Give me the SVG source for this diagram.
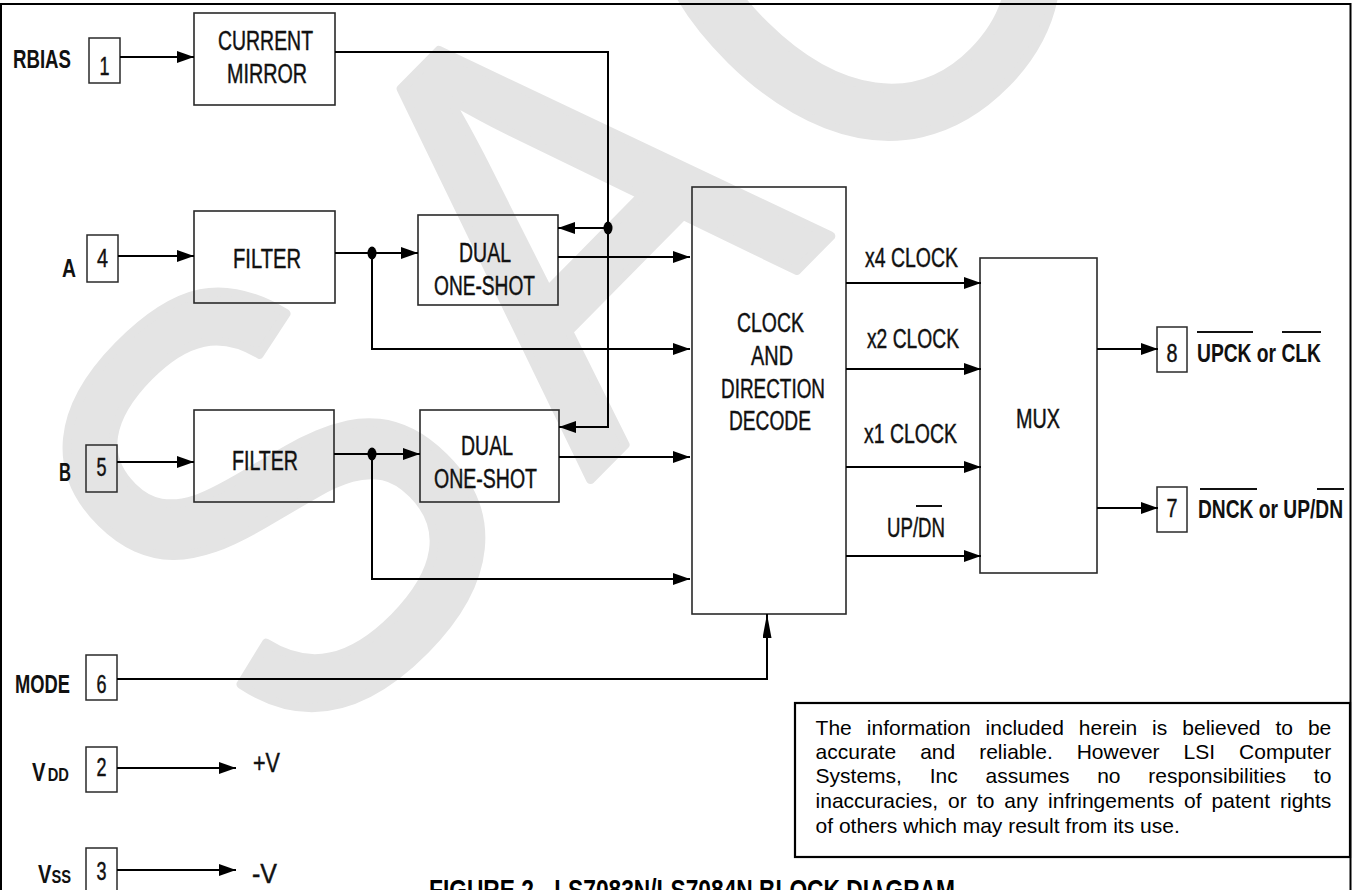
<svg xmlns="http://www.w3.org/2000/svg" width="1352" height="890" viewBox="0 0 1352 890">
<defs>
<marker id="arr" markerUnits="userSpaceOnUse" markerWidth="17" markerHeight="12" refX="17" refY="6" orient="auto"><path d="M0,0 L17,6 L0,12 z" fill="#000"/></marker>
<marker id="arrv" markerUnits="userSpaceOnUse" markerWidth="24" markerHeight="9" refX="24" refY="4.5" orient="auto"><path d="M0,0 L24,4.5 L0,9 z" fill="#000"/></marker>
<style>
.box{fill:none;stroke:#2a2a2a;stroke-width:1.6}
.pin{fill:none;stroke:#2a2a2a;stroke-width:1.5}
.w{fill:none;stroke:#000;stroke-width:2}
.a{marker-end:url(#arr)}
.lbl{font-family:"Liberation Sans",Arial,sans-serif;font-size:27px;fill:#111;stroke:#111;stroke-width:0.45}
.num{font-family:"Liberation Sans",Arial,sans-serif;font-size:25px;fill:#111;stroke:#111;stroke-width:0.45;text-anchor:middle}
.c{text-anchor:middle}
.pl{font-family:"Liberation Sans",Arial,sans-serif;font-size:26px;font-weight:bold;fill:#111}
.disc{font-family:"Liberation Sans",Arial,sans-serif;font-size:21px;fill:#000}
.ov{stroke:#111;stroke-width:2}
.wm{fill:#e4e4e4;stroke:#e4e4e4;stroke-width:8;stroke-linejoin:round;font-family:"Liberation Sans",Arial,sans-serif}
</style>
</defs>
<rect x="0" y="0" width="1352" height="890" fill="#fff"/>
<g id="watermark">
<text class="wm" font-size="530" transform="translate(295.5,772.5) rotate(-45.4) scale(1,1.15)">S</text>
<text class="wm" font-size="517" transform="translate(589.5,480.5) rotate(-45.4) scale(1,1.15)">A</text>
<text class="wm" font-size="517" transform="translate(860.5,222.4) rotate(-45.4) scale(1,1.15)">O</text>
</g>
<g id="frame" stroke="#000" stroke-width="2" fill="none">
<path d="M0,4 H1350.5 V890"/>
<path d="M1,4 V890"/>
</g>
<g id="pin1"><rect class="pin" x="89" y="38" width="31" height="45"/><text class="num" x="104.5" y="75" textLength="10" lengthAdjust="spacingAndGlyphs">1</text><text class="pl" x="13" y="68" font-size="25" textLength="58" lengthAdjust="spacingAndGlyphs">RBIAS</text></g>
<g id="pin4"><rect class="pin" x="87" y="235" width="31" height="47"/><text class="num" x="102.5" y="267" textLength="11" lengthAdjust="spacingAndGlyphs">4</text><text class="pl" x="62" y="277" font-size="24" textLength="14" lengthAdjust="spacingAndGlyphs">A</text></g>
<g id="pin5"><rect class="pin" x="86" y="445" width="31" height="47"/><text class="num" x="101.5" y="476" textLength="10" lengthAdjust="spacingAndGlyphs">5</text><text class="pl" x="59" y="481" textLength="12" lengthAdjust="spacingAndGlyphs">B</text></g>
<g id="pin6"><rect class="pin" x="86" y="655" width="31" height="45"/><text class="num" x="101.5" y="693" textLength="10" lengthAdjust="spacingAndGlyphs">6</text><text class="pl" x="15" y="693" textLength="55" lengthAdjust="spacingAndGlyphs">MODE</text></g>
<g id="pin2"><rect class="pin" x="86" y="747" width="31" height="45"/><text class="num" x="101.5" y="776" textLength="10" lengthAdjust="spacingAndGlyphs">2</text><text class="pl" x="32" y="781" textLength="37" lengthAdjust="spacingAndGlyphs">V<tspan font-size="19" dx="3">DD</tspan></text><text class="lbl" x="253" y="772" textLength="27" lengthAdjust="spacingAndGlyphs">+V</text></g>
<g id="pin3"><rect class="pin" x="86" y="848" width="31" height="45"/><text class="num" x="101.5" y="880" textLength="10" lengthAdjust="spacingAndGlyphs">3</text><text class="pl" x="38" y="883" textLength="33" lengthAdjust="spacingAndGlyphs">V<tspan font-size="19">SS</tspan></text><text class="lbl" x="252" y="883" textLength="25" lengthAdjust="spacingAndGlyphs">-V</text></g>
<g id="currentMirror"><rect class="box" x="194" y="13" width="141" height="92"/><text class="lbl c" x="265.5" y="50" textLength="95" lengthAdjust="spacingAndGlyphs">CURRENT</text><text class="lbl c" x="267" y="83" textLength="80" lengthAdjust="spacingAndGlyphs">MIRROR</text></g>
<g id="filterA"><rect class="box" x="194" y="211" width="141" height="92"/><text class="lbl c" x="267" y="268" textLength="68" lengthAdjust="spacingAndGlyphs">FILTER</text></g>
<g id="oneShotA"><rect class="box" x="418" y="215" width="140" height="90"/><text class="lbl c" x="485" y="262" textLength="52" lengthAdjust="spacingAndGlyphs">DUAL</text><text class="lbl c" x="484.5" y="295" textLength="101" lengthAdjust="spacingAndGlyphs">ONE-SHOT</text></g>
<g id="filterB"><rect class="box" x="194" y="410" width="140" height="92"/><text class="lbl c" x="265" y="470" textLength="66" lengthAdjust="spacingAndGlyphs">FILTER</text></g>
<g id="oneShotB"><rect class="box" x="420" y="410" width="139" height="92"/><text class="lbl c" x="487" y="455" textLength="52" lengthAdjust="spacingAndGlyphs">DUAL</text><text class="lbl c" x="485.5" y="488" textLength="103" lengthAdjust="spacingAndGlyphs">ONE-SHOT</text></g>
<g id="decode"><rect class="box" x="692" y="187" width="154" height="427"/><text class="lbl c" x="770.5" y="332" textLength="67" lengthAdjust="spacingAndGlyphs">CLOCK</text><text class="lbl c" x="772" y="365" textLength="42" lengthAdjust="spacingAndGlyphs">AND</text><text class="lbl c" x="773" y="398" textLength="104" lengthAdjust="spacingAndGlyphs">DIRECTION</text><text class="lbl c" x="770" y="430" textLength="82" lengthAdjust="spacingAndGlyphs">DECODE</text></g>
<g id="mux"><rect class="box" x="980" y="258" width="117" height="315"/><text class="lbl c" x="1038" y="428" textLength="44" lengthAdjust="spacingAndGlyphs">MUX</text></g>
<g id="pin8"><rect class="pin" x="1157" y="327" width="30" height="45"/><text class="num" x="1172" y="362" textLength="11" lengthAdjust="spacingAndGlyphs">8</text><text class="pl" x="1197" y="362" textLength="124" lengthAdjust="spacingAndGlyphs">UPCK or CLK</text><line class="ov" x1="1197" y1="332" x2="1253" y2="332"/><line class="ov" x1="1282" y1="332" x2="1321" y2="332"/></g>
<g id="pin7"><rect class="pin" x="1157" y="487" width="30" height="45"/><text class="num" x="1172" y="517" textLength="11" lengthAdjust="spacingAndGlyphs">7</text><text class="pl" x="1198" y="518" textLength="145" lengthAdjust="spacingAndGlyphs">DNCK or UP/DN</text><line class="ov" x1="1200" y1="489" x2="1257" y2="489"/><line class="ov" x1="1317" y1="489" x2="1344" y2="489"/></g>
<g id="connectors">
<path class="w a" d="M120,57 H194"/>
<path class="w a" d="M335,52 H608 V427 H559"/>
<path class="w a" d="M608,228 H558"/>
<ellipse cx="608" cy="228" rx="4.5" ry="6.5" fill="#000"/>
<path class="w a" d="M118,256 H194"/>
<path class="w a" d="M335,253 H418"/>
<ellipse cx="372" cy="253" rx="4.5" ry="6.5" fill="#000"/>
<path class="w a" d="M372,253 V349 H690"/>
<path class="w a" d="M558,257 H690"/>
<path class="w a" d="M117,462 H194"/>
<path class="w a" d="M334,454 H420"/>
<ellipse cx="372" cy="454" rx="4.5" ry="6.5" fill="#000"/>
<path class="w a" d="M372,454 V579 H690"/>
<path class="w a" d="M559,457 H690"/>
<path class="w" d="M117,679 H767 V614" marker-end="url(#arrv)"/>
<path class="w a" d="M846,283 H981"/>
<path class="w a" d="M846,369 H981"/>
<path class="w a" d="M846,467 H981"/>
<path class="w a" d="M846,556 H981"/>
<path class="w a" d="M1097,349 H1158"/>
<path class="w a" d="M1097,508 H1158"/>
<path class="w a" d="M117,768 H236"/>
<path class="w a" d="M117,870 H236"/>
<text class="lbl" x="865" y="267" textLength="93" lengthAdjust="spacingAndGlyphs">x4 CLOCK</text>
<text class="lbl" x="867" y="348" textLength="92" lengthAdjust="spacingAndGlyphs">x2 CLOCK</text>
<text class="lbl" x="864" y="443" textLength="93" lengthAdjust="spacingAndGlyphs">x1 CLOCK</text>
<text class="lbl" x="887" y="537" textLength="58" lengthAdjust="spacingAndGlyphs">UP/DN</text>
<line class="ov" x1="916" y1="506" x2="942" y2="506"/>
</g>
<g id="disclaimer">
<rect x="795" y="703" width="555" height="154" fill="#fff" stroke="#000" stroke-width="2.2"/>
<text class="disc" y="735"><tspan x="815.6">The</tspan><tspan x="866.8">information</tspan><tspan x="985.6">included</tspan><tspan x="1078.8">herein</tspan><tspan x="1152.1">is</tspan><tspan x="1182.3">believed</tspan><tspan x="1275.5">to</tspan><tspan x="1307.9">be</tspan></text>
<text class="disc" y="759.3"><tspan x="815.6">accurate</tspan><tspan x="920.2">and</tspan><tspan x="979.2">reliable.</tspan><tspan x="1076.7">However</tspan><tspan x="1183.6">LSI</tspan><tspan x="1239.1">Computer</tspan></text>
<text class="disc" y="783.3"><tspan x="815.6">Systems,</tspan><tspan x="929.7">Inc</tspan><tspan x="985.5">assumes</tspan><tspan x="1097.2">no</tspan><tspan x="1148.3">responsibilities</tspan><tspan x="1313.8">to</tspan></text>
<text class="disc" y="808.3"><tspan x="815.6">inaccuracies,</tspan><tspan x="948.1">or</tspan><tspan x="976.8">to</tspan><tspan x="1004.3">any</tspan><tspan x="1048.1">infringements</tspan><tspan x="1184.1">of</tspan><tspan x="1211.6">patent</tspan><tspan x="1280">rights</tspan></text>
<text class="disc" x="815.6" y="832.7">of others which may result from its use.</text>
</g>
<g id="title"><text x="429" y="900" font-family="Liberation Sans, Arial, sans-serif" font-size="30" font-weight="bold" fill="#000" textLength="526" lengthAdjust="spacingAndGlyphs">FIGURE 2 - LS7083N/LS7084N BLOCK DIAGRAM</text></g>
</svg>
